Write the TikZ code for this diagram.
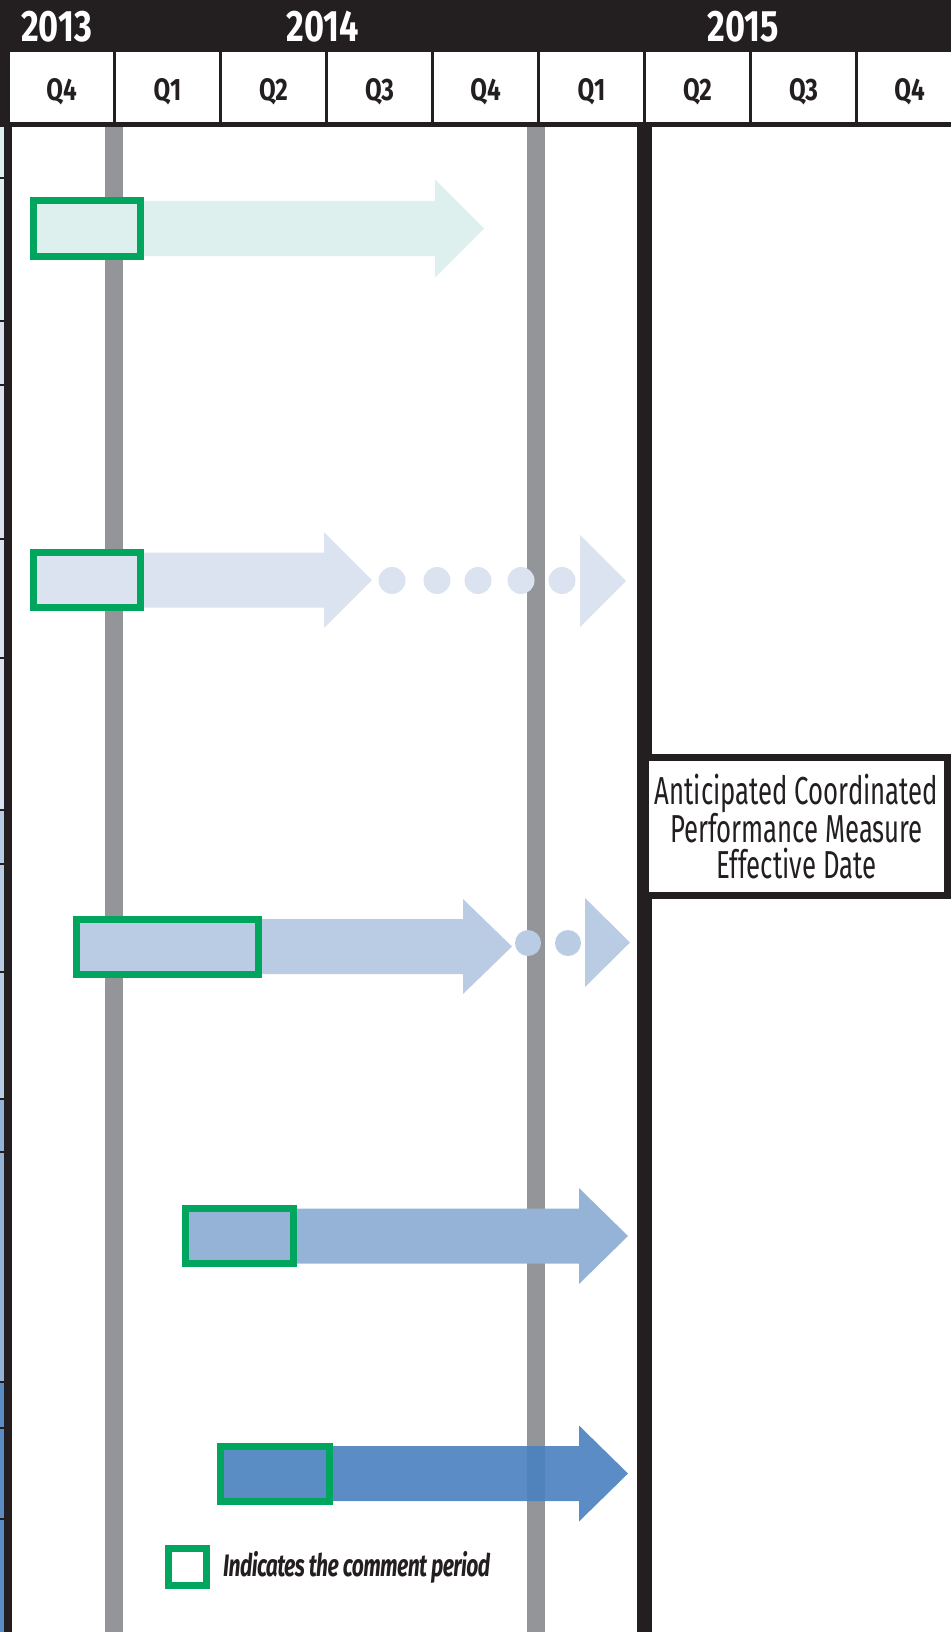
\documentclass[tikz,border=0pt]{standalone}
\usepackage{fontspec}
\setmainfont{Fira Sans}
\newfontfamily\yearfont{Fira Sans}[FakeStretch=0.78]
\newfontfamily\qtrfont{Fira Sans}[FakeStretch=0.78]
\newfontfamily\datefont{Fira Sans}[FakeStretch=0.66]
\newfontfamily\notefont{Fira Sans}[FakeStretch=0.68,LetterSpace=-2]
\usetikzlibrary{shapes,calc}
\usetikzlibrary{positioning}
\definecolor{hdblack}{HTML}{231F20}
\definecolor{guide}{HTML}{939598}
\definecolor{cgreen}{HTML}{00A65D}
\definecolor{crow1}{HTML}{DDF0EE}
\definecolor{crow2}{HTML}{DCE3F0}
\definecolor{crow3}{HTML}{B9CCE4}
\definecolor{crow4}{HTML}{95B3D7}
\definecolor{crow5}{HTML}{5B8DC5}
\definecolor{crow5bar}{HTML}{4980BF}
\tikzstyle{year} = [text=white, inner sep=0pt, anchor=base,
    font=\yearfont\bfseries\fontsize{44}{44}\selectfont]
\tikzstyle{qcell} = [rectangle, fill=white, minimum width=103pt, minimum height=70pt,
    inner sep=0pt, text height=27pt, text depth=0pt, text=hdblack,
    font=\qtrfont\bfseries\fontsize{31}{31}\selectfont]
\tikzstyle{comment} = [rectangle, draw=cgreen, line width=7pt, minimum height=55pt, inner sep=0pt]
\tikzstyle{datebox} = [rectangle, draw=hdblack, fill=white, line width=7pt, minimum width=302pt,
    minimum height=138pt, align=center, text=hdblack, font=\datefont\fontsize{39}{36}\selectfont]
\tikzstyle{note} = [inner sep=0pt, text=hdblack, font=\notefont\bfseries\itshape\fontsize{31}{31}\selectfont]
% timeline bar: style, comment box, head start, tip, half head
\newcommand{\tlbar}[5]{%
    \fill[#1] let \p1 = (#2.east) in
        (\x1,\y1+27.5pt) -- (#3pt,\y1+27.5pt) -- (#3pt,\y1+#5pt) -- (#4pt,\y1)
        -- (#3pt,\y1-#5pt) -- (#3pt,\y1-27.5pt) -- (\x1,\y1-27.5pt) -- cycle;}
\begin{document}
\begin{tikzpicture}[x=1pt, y=-1pt]
    \useasboundingbox (0,0) rectangle (951,1632);
    % Header
    \fill[hdblack] (0,0) rectangle (951,127);
    \node[year] (y13) at (56.5,42) {2013};
    \node[year] (y14) at (323,42) {2014};
    \node[year] (y15) at (743,42) {2015};
    \foreach \q [count=\i from 0] in {Q4,Q1,Q2,Q3,Q4,Q1,Q2,Q3,Q4}
        \node[qcell] (q\i) at (61.5+106*\i,87) {\q};

    % Left edge of the table
    \fill[crow1] (0,127) rectangle (4,321);
    \fill[crow2] (0,321) rectangle (4,810);
    \fill[crow3] (0,810) rectangle (4,1099);
    \fill[crow4] (0,1099) rectangle (4,1382);
    \fill[crow5] (0,1382) rectangle (4,1632);
    \foreach \t in {178,321,385,539,658,810,864,972,1099,1152,1382,1428,1519}
        \draw[hdblack, line width=2pt] (0,\t) -- (4,\t);
    \fill[hdblack] (4,127) rectangle (12,1632);

    % Guide bars and effective date line
    \fill[guide] (105,127) rectangle (123,1632);
    \fill[guide] (527,127) rectangle (545,1632);
    \fill[hdblack] (637,127) rectangle (652,1632);

    % Place comment periods
    \node[comment, fill=crow1, minimum width=107pt] (cb1) at (87,228.5) {};
    \node[comment, fill=crow2, minimum width=107pt] (cb2) at (87,580) {};
    \node[comment, fill=crow3, minimum width=182pt] (cb3) at (167.5,946.5) {};
    \node[comment, fill=crow4, minimum width=108pt] (cb4) at (239.5,1236) {};
    \node[comment, fill=crow5, minimum width=109pt] (cb5) at (275,1473.5) {};

    % Draw bars
    \tlbar{crow1}{cb1}{435}{484}{49}
    \tlbar{crow2}{cb2}{324}{372}{48}
    \foreach \x in {392,437,478,521,562}
        \fill[crow2] (\x,580.5) circle (13.5);
    \fill[crow2] (580,535) -- (626,581) -- (580,627) -- cycle;
    \tlbar{crow3}{cb3}{463}{512}{47.5}
    \foreach \x in {528,568}
        \fill[crow3] (\x,943) circle (13);
    \fill[crow3] (585,898) -- (630,942.5) -- (585,987) -- cycle;
    \tlbar{crow4}{cb4}{579}{628}{48}
    \tlbar{crow5bar, fill opacity=0.9}{cb5}{579}{628}{48}

    % Effective date
    \node[datebox] (eff) at (796.5,826.5) {Anticipated Coordinated\\Performance Measure\\Effective Date};

    % Key
    \node[comment, fill=white, minimum width=38pt, minimum height=37pt] (key) at (187.5,1567) {};
    \node[note, right=13pt of key] (keytext) {Indicates the comment period};
\end{tikzpicture}
\end{document}
